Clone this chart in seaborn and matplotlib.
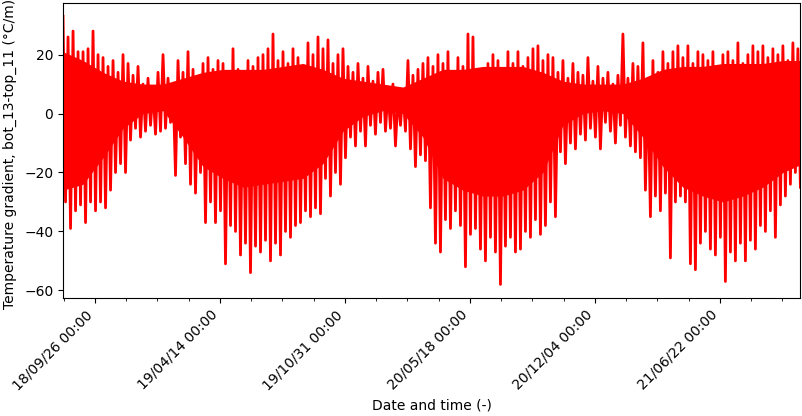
import numpy as np
import pandas as pd
import matplotlib
matplotlib.use('Agg')
import matplotlib.pyplot as plt
import matplotlib.dates as mdates
import matplotlib.ticker as mticker
import seaborn as sns

# Upper and lower swings of the gradient, one pair every 8 days from 2018-08-06
hi = [33, 26, 28, 21, 21, 22, 28, 20, 19, 16,
      18, 14, 20, 17, 13, 16, 10, 12, 8, 14,
      20, 12, 10, 18, 14, 21, 15, 12, 17, 19,
      15, 18, 17, 14, 22, 15, 13, 18, 16, 19,
      20, 22, 27, 18, 21, 17, 22, 19, 16, 24,
      20, 26, 22, 25, 17, 20, 22, 16, 14, 17,
      12, 16, 11, 14, 15, 8, 10, 6, 8, 18,
      13, 15, 17, 19, 16, 20, 17, 21, 14, 19,
      16, 27, 26, 15, 13, 17, 20, 18, 15, 21,
      17, 21, 16, 19, 22, 23, 18, 20, 19, 14,
      18, 12, 17, 14, 13, 19, 11, 16, 12, 14,
      10, 13, 27, 12, 17, 16, 24, 12, 18, 14,
      21, 17, 21, 23, 19, 23, 17, 21, 20, 18,
      21, 16, 20, 21, 18, 24, 17, 20, 23, 21,
      23, 19, 22, 20, 23, 18, 24, 22]
lo = [-30, -39, -33, -31, -37, -30, -33, -30, -32, -26,
      -20, -17, -20, -9, -5, -8, -6, -4, -7, -6,
      -5, -3, -21, -8, -17, -24, -27, -20, -37, -30,
      -37, -33, -51, -38, -40, -48, -44, -54, -45, -47,
      -43, -50, -44, -48, -40, -42, -38, -37, -33, -35,
      -32, -34, -22, -28, -20, -24, -15, -8, -11, -6,
      -11, -4, -7, -3, -6, -5, -11, -4, -6, -12,
      -18, -14, -16, -32, -44, -47, -36, -39, -33, -38,
      -52, -41, -39, -46, -50, -42, -47, -58, -45, -42,
      -47, -46, -40, -42, -36, -41, -38, -30, -35, -13,
      -17, -10, -12, -7, -9, -5, -8, -12, -3, -6,
      -10, -4, -8, -11, -13, -15, -26, -35, -28, -33,
      -27, -49, -30, -28, -30, -51, -53, -44, -40, -46,
      -48, -42, -57, -47, -50, -44, -50, -43, -46, -38,
      -40, -33, -42, -31, -28, -24, -20, -25]

# Solid body of the trace (where the hourly values overlap), every 32 days
core_top = [21, 18, 14, 11, 10, 10, 12, 14, 15, 15,
            15, 16, 17, 15, 12, 11, 10, 9, 12, 15,
            15, 16, 16, 16, 14, 11, 10, 10, 10, 12,
            15, 16, 16, 17, 17, 17, 18, 18]
core_bot = [-26, -24, -15, -5, 0, 1, -8, -18, -22, -25,
            -24, -23, -22, -17, -6, -1, 1, 0, -8, -22,
            -26, -28, -28, -26, -20, -4, 0, 1, 0, -8,
            -18, -25, -28, -30, -28, -25, -20, -17]

values = [v for pair in zip(hi, lo) for v in pair]
df = pd.DataFrame({
    'time': pd.date_range('2018-08-06', periods=len(values), freq='4D'),
    'grad': values,
})
core = pd.DataFrame({
    'time': pd.date_range('2018-08-06', periods=len(core_top), freq='32D'),
    'top': core_top,
    'bot': core_bot,
})

fig, ax = plt.subplots(figsize=(8.02, 4.16), dpi=100)
fig.subplots_adjust(left=0.0786, right=0.998, top=0.993, bottom=0.284)

ax.fill_between(core['time'], core['bot'], core['top'], color='red', lw=0)
sns.lineplot(data=df, x='time', y='grad', color='red', linewidth=2,
             estimator=None, ax=ax)

ax.set_xlim(df['time'].iloc[0], df['time'].iloc[-1])
major = pd.date_range('2018-09-26', periods=6, freq='200D')
minor = pd.date_range('2018-08-07', periods=24, freq='50D')
ax.xaxis.set_major_locator(mticker.FixedLocator(mdates.date2num(major)))
ax.xaxis.set_minor_locator(mticker.FixedLocator(mdates.date2num(minor)))
ax.xaxis.set_major_formatter(mdates.DateFormatter('%y/%m/%d %H:%M'))
plt.setp(ax.get_xticklabels(), rotation=45, ha='right')

ax.set_xlabel('Date and time (-)')
ax.set_ylabel('Temperature gradient, bot_13-top_11 (°C/m)')
ax.yaxis.set_label_coords(-0.0622, 0.488)

plt.savefig('out.png', dpi=100)
